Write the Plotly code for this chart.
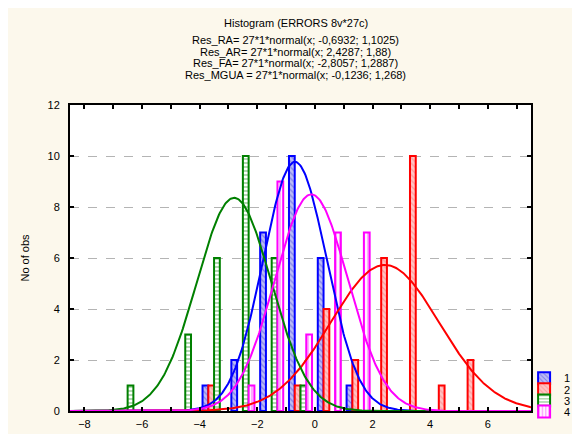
import numpy as np
import plotly.graph_objects as go

# ---- data ----
bin_centers = [-6.5, -5.5, -4.5, -3.5, -2.5, -1.5, -0.5, 0.5, 1.5, 2.5, 3.5, 4.5, 5.5]
counts_1 = [0, 0, 0, 1, 2, 7, 10, 6, 1, 0, 0, 0, 0]      # Res_RA
counts_2 = [0, 0, 0, 1, 0, 0, 1, 4, 2, 6, 10, 1, 2]      # Res_AR
counts_3 = [1, 0, 3, 6, 10, 6, 1, 0, 0, 0, 0, 0, 0]      # Res_FA
counts_4 = [0, 0, 0, 0, 1, 9, 3, 7, 7, 0, 0, 0, 0]       # Res_MGUA
series_names = ["1", "2", "3", "4"]
n_obs = 27
bin_width = 1
fit_means = [-0.6932, 2.4287, -2.8057, -0.1236]
fit_sds = [1.1025, 1.88, 1.2887, 1.268]
title_lines = [
    "Histogram (ERRORS 8v*27c)",
    "Res_RA= 27*1*normal(x; -0,6932; 1,1025)",
    "Res_AR= 27*1*normal(x; 2,4287; 1,88)",
    "Res_FA= 27*1*normal(x; -2,8057; 1,2887)",
    "Res_MGUA = 27*1*normal(x; -0,1236; 1,268)",
]
x_range = [-8.5, 7.5]
y_range = [0, 12]

# ---- styling ----
line_colors = ["#0000ff", "#ff0000", "#008000", "#ff00ff"]
bg_colors = ["#bcbcf4", "#ffc4c4", "#ffffff", "#fff4ff"]
fg_colors = ["#4040e0", "#ff7070", "#008000", "#ff00ff"]
shapes = ["\\", "\\", "-", "|"]
FONT = "Arial, Liberation Sans, sans-serif"

W, H = 580, 434
L, R, T, B = 62, 48, 97, 20
plot_h = H - T - B

fig = go.Figure()
all_counts = [counts_1, counts_2, counts_3, counts_4]
for i, cnt in enumerate(all_counts):
    yvals = [c if c > 0 else None for c in cnt]
    fig.add_trace(go.Bar(
        x=bin_centers, y=yvals, name=series_names[i],
        marker=dict(
            color=bg_colors[i],
            line=dict(color=line_colors[i], width=2),
            pattern=dict(shape=shapes[i], fgcolor=fg_colors[i], bgcolor=bg_colors[i],
                         size=4, solidity=0.3),
        ),
        legend="legend" if i == 0 else f"legend{i+1}",
        hoverinfo="skip",
    ))

xs = np.linspace(x_range[0], x_range[1], 500)
for i in range(4):
    m, s = fit_means[i], fit_sds[i]
    ys = n_obs * bin_width * np.exp(-0.5 * ((xs - m) / s) ** 2) / (s * np.sqrt(2 * np.pi))
    fig.add_trace(go.Scatter(x=xs, y=ys, mode="lines",
                             line=dict(color=line_colors[i], width=2),
                             showlegend=False, hoverinfo="skip"))

# title lines as annotations (pixel positions converted to paper coords)
title_y_px = [12, 30, 42, 54, 66]
for txt, ypx in zip(title_lines, title_y_px):
    fig.add_annotation(text=txt, xref="paper", yref="paper",
                       x=(292 - L) / (W - L - R), y=(H - B - ypx) / plot_h,
                       xanchor="center", yanchor="middle", showarrow=False,
                       font=dict(family=FONT, size=11, color="#000000"))

legend_common = dict(bgcolor="rgba(0,0,0,0)", font=dict(family=FONT, size=11, color="#000"),
                     xanchor="left", yanchor="middle", x=0.985, borderwidth=0,
                     itemwidth=30, tracegroupgap=0)
leg_y_px = [380, 391.5, 403, 414.5]
legends = {}
for i, ypx in enumerate(leg_y_px):
    key = "legend" if i == 0 else f"legend{i+1}"
    legends[key] = dict(legend_common, y=(H - B - ypx) / plot_h)

fig.update_layout(
    width=W, height=H,
    margin=dict(l=L, r=R, t=T, b=B),
    paper_bgcolor="#fcf8ec",
    plot_bgcolor="#ffffff",
    barmode="group", bargap=0.2, bargroupgap=0,
    font=dict(family=FONT, size=11, color="#000000"),
    **legends,
)
fig.update_xaxes(range=x_range, dtick=2, tick0=0, showgrid=False, zeroline=False,
                 showline=True, linecolor="#000", linewidth=2, mirror="ticks",
                 ticks="inside", ticklen=4, tickcolor="#000", tickwidth=1.5,
                 minor=dict(dtick=1, ticks="inside", ticklen=4, tickcolor="#000", tickwidth=1.5),
                 tickfont=dict(family=FONT, size=11), ticklabelstandoff=2)
fig.update_yaxes(range=y_range, dtick=2, showgrid=True, gridcolor="#b4b4b4", griddash="dash",
                 gridwidth=1, zeroline=False,
                 showline=True, linecolor="#000", linewidth=2, mirror="ticks",
                 ticks="inside", ticklen=4, tickcolor="#000", tickwidth=1.5,
                 tickfont=dict(family=FONT, size=11), ticklabelstandoff=6,
                 title=dict(text="No of obs", standoff=16, font=dict(family=FONT, size=11)))

fig.write_html("out.html")
